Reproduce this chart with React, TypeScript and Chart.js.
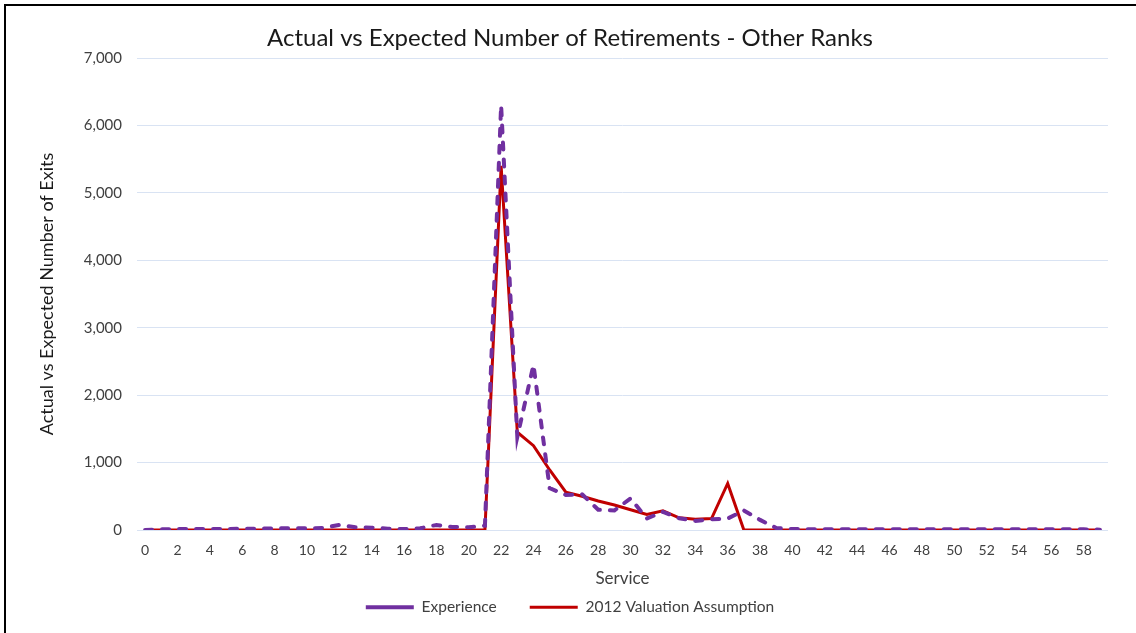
import React, { useEffect, useRef } from "react";
import { Chart, registerables } from "chart.js";

Chart.register(...registerables);

const service: string[] = [
  "0", "1", "2", "3", "4", "5", "6", "7", "8", "9",
  "10", "11", "12", "13", "14", "15", "16", "17", "18", "19",
  "20", "21", "22", "23", "24", "25", "26", "27", "28", "29",
  "30", "31", "32", "33", "34", "35", "36", "37", "38", "39",
  "40", "41", "42", "43", "44", "45", "46", "47", "48", "49",
  "50", "51", "52", "53", "54", "55", "56", "57", "58", "59",
];

const experience: number[] = [
  0, 10, 15, 15, 15, 15, 20, 20, 25, 25,
  25, 30, 75, 40, 35, 20, 15, 25, 75, 45,
  40, 65, 6300, 1380, 2450, 620, 520, 530, 300, 290,
  470, 170, 270, 175, 135, 160, 170, 290, 150, 30,
  15, 10, 10, 10, 10, 10, 10, 10, 10, 10,
  10, 10, 10, 10, 10, 10, 10, 10, 10, 5,
];

const valuation2012: number[] = [
  0, 0, 0, 0, 0, 0, 0, 0, 0, 0,
  0, 0, 0, 0, 0, 0, 0, 0, 0, 0,
  0, 0, 5400, 1450, 1250, 890, 560, 500, 430, 370,
  300, 230, 285, 180, 160, 170, 690, 0, 0, 0,
  0, 0, 0, 0, 0, 0, 0, 0, 0, 0,
  0, 0, 0, 0, 0, 0, 0, 0, 0, 0,
];

const FONT = "Lato, 'Open Sans', sans-serif";

export default function App() {
  const ref = useRef<HTMLCanvasElement | null>(null);

  useEffect(() => {
    if (!ref.current) return;
    const chart = new Chart(ref.current, {
      type: "line",
      data: {
        labels: service,
        datasets: [
          {
            label: "Experience",
            data: experience,
            borderColor: "#7030A0",
            backgroundColor: "#7030A0",
            borderWidth: 4,
            borderDash: [7, 10],
            borderCapStyle: "round",
            pointRadius: 0,
            tension: 0,
            fill: false,
          },
          {
            label: "2012 Valuation Assumption",
            data: valuation2012,
            borderColor: "#C00000",
            backgroundColor: "#C00000",
            borderWidth: 3,
            pointRadius: 0,
            tension: 0,
            fill: false,
          },
        ],
      },
      options: {
        responsive: false,
        animation: false,
        layout: { padding: { left: 32, right: 28, top: 0, bottom: 8 } },
        plugins: {
          title: {
            display: true,
            text: "Actual vs Expected Number of Retirements - Other Ranks",
            color: "#1a1a1a",
            font: { family: FONT, size: 24, weight: "normal" },
            padding: { top: 23.6, bottom: 5.6 },
          },
          legend: {
            position: "bottom",
            labels: {
              usePointStyle: true,
              pointStyle: "line",
              pointStyleWidth: 48,
              padding: 33,
              color: "#404040",
              font: { family: FONT, size: 15.5 },
            },
          },
          tooltip: { enabled: false },
        },
        scales: {
          x: {
            offset: true,
            grid: { display: false, drawTicks: false },
            border: { display: false },
            ticks: {
              color: "#404040",
              font: { family: FONT, size: 14 },
              padding: 12,
              maxRotation: 0,
              autoSkip: false,
              callback: (_v: any, i: number) => (i % 2 === 0 ? service[i] : ""),
            },
            title: {
              display: true,
              text: "Service",
              color: "#404040",
              font: { family: FONT, size: 17 },
              padding: { top: 0, bottom: -22.7 },
            },
            afterFit: (s: any) => {
              s.height = 36.5;
            },
          },
          y: {
            min: 0,
            max: 7000,
            grid: { color: "#D9E3F3", lineWidth: 1, drawTicks: false },
            border: { display: false },
            ticks: {
              stepSize: 1000,
              color: "#404040",
              font: { family: FONT, size: 15 },
              padding: 15,
              callback: (v: any) => Number(v).toLocaleString("en-US"),
            },
            title: {
              display: true,
              text: "Actual vs Expected Number of Exits",
              color: "#1a1a1a",
              font: { family: FONT, size: 18 },
              padding: { top: 4.2, bottom: 0 },
            },
            afterFit: (s: any) => {
              s.width = 105;
            },
          },
        },
      },
    });
    return () => chart.destroy();
  }, []);

  return (
    <div
      style={{
        position: "fixed",
        left: 0,
        top: 0,
        width: 1136,
        height: 633,
        overflow: "hidden",
        background: "#ffffff",
      }}
    >
      <div
        style={{
          position: "absolute",
          left: 4,
          top: 4,
          width: 1200,
          height: 700,
          borderTop: "2px solid #000",
          borderLeft: "2px solid #000",
        }}
      />
      <canvas
        ref={ref}
        width={1136}
        height={633}
        style={{ position: "absolute", left: 0, top: 0, width: 1136, height: 633 }}
      />
    </div>
  );
}
